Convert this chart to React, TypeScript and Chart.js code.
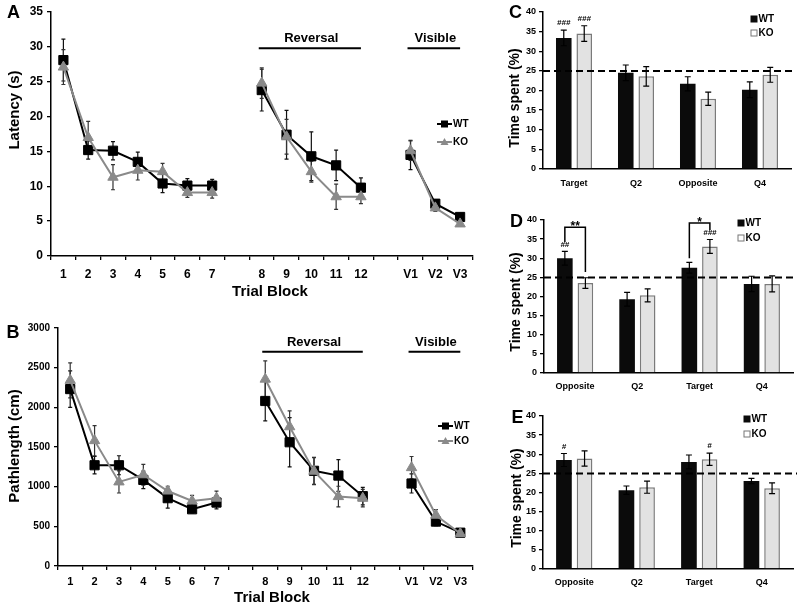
import React, { useEffect, useRef } from 'react';
import { Chart, registerables } from 'chart.js';

Chart.register(...registerables);

type Num = number | null;

// ---------------- Panels A & B (trial blocks) ----------------
const trialLabels = ['1', '2', '3', '4', '5', '6', '7', '', '8', '9', '10', '11', '12', '', 'V1', 'V2', 'V3'];

const latencyWT: Num[] = [28.1, 15.2, 15.1, 13.5, 10.4, 10.1, 10.1, null, 23.8, 17.4, 14.3, 13.0, 9.8, null, 14.5, 7.5, 5.6];
const latencyWTErr: Num[] = [3.0, 1.3, 1.3, 1.4, 1.3, 1.0, 0.9, null, 3.0, 3.5, 3.5, 2.2, 1.4, null, 2.1, 0.6, 0.4];
const latencyKO: Num[] = [27.1, 17.0, 11.3, 12.3, 12.1, 9.1, 9.1, null, 24.8, 17.1, 12.1, 8.5, 8.5, null, 15.1, 6.9, 4.6];
const latencyKOErr: Num[] = [2.5, 2.3, 1.8, 1.4, 1.2, 0.7, 0.8, null, 2.2, 2.5, 1.5, 1.8, 1.0, null, 1.4, 0.5, 0.3];

const pathWT: Num[] = [2230, 1270, 1270, 1085, 855, 715, 800, null, 2080, 1560, 1200, 1140, 880, null, 1040, 560, 420];
const pathWTErr: Num[] = [230, 110, 120, 110, 125, 45, 80, null, 250, 310, 170, 200, 110, null, 120, 50, 30];
const pathKO: Num[] = [2340, 1580, 1060, 1150, 945, 820, 855, null, 2355, 1755, 1195, 875, 855, null, 1240, 640, 410];
const pathKOErr: Num[] = [220, 190, 140, 130, 60, 70, 90, null, 230, 200, 170, 130, 110, null, 140, 70, 30];

const groupNames = ['Reversal', 'Visible'];
const groupFirst = ['8', 'V1'];
const groupLast = ['12', 'V3'];

// ---------------- Panels C, D, E (probe trials) ----------------
const zonesC = ['Target', 'Q2', 'Opposite', 'Q4'];
const zonesDE = ['Opposite', 'Q2', 'Target', 'Q4'];

const cWT = [33.4, 24.5, 21.7, 20.2];
const cWTErr = [2.0, 2.0, 1.8, 2.0];
const cKO = [34.5, 23.6, 17.9, 24.0];
const cKOErr = [2.0, 2.5, 1.7, 1.9];
const cMarksWT = ['###', '', '', ''];
const cMarksKO = ['###', '', '', ''];

const dWT = [30.0, 19.3, 27.5, 23.3];
const dWTErr = [1.8, 1.8, 1.4, 2.0];
const dKO = [23.5, 20.3, 33.1, 23.3];
const dKOErr = [1.4, 1.7, 1.8, 2.1];
const dMarksWT = ['##', '', '', ''];
const dMarksKO = ['', '', '###', ''];
const dBracketLabels = ['**', '*'];
const dBracketCats = [0, 2];

const eWT = [28.5, 20.6, 28.0, 23.0];
const eWTErr = [1.7, 1.1, 1.8, 0.7];
const eKO = [28.9, 21.4, 28.7, 21.1];
const eKOErr = [2.0, 1.6, 1.6, 1.4];
const eMarksWT = ['#', '', '', ''];
const eMarksKO = ['', '', '#', ''];

const chanceLevel = 25;
const seriesNames = ['WT', 'KO'];

// ---------------- helpers ----------------
const FONT = '"Liberation Sans", Arial, Helvetica, sans-serif';
const bold = (s: number) => `bold ${s}px ${FONT}`;

function drawText(ctx: CanvasRenderingContext2D, str: string, x: number, y: number, font: string,
  align: CanvasTextAlign = 'center', baseline: CanvasTextBaseline = 'middle', rotate = 0) {
  ctx.save();
  ctx.font = font;
  ctx.fillStyle = '#000';
  ctx.textAlign = align;
  ctx.textBaseline = baseline;
  ctx.translate(x, y);
  if (rotate) ctx.rotate(rotate);
  ctx.fillText(str, 0, 0);
  ctx.restore();
}

function errorBarPlugin(cap: number, lw: number, before: boolean) {
  const draw = (chart: any) => {
    const ctx = chart.ctx as CanvasRenderingContext2D;
    const ys = chart.scales.y;
    chart.data.datasets.forEach((ds: any, i: number) => {
      if (!ds.errors) return;
      const meta = chart.getDatasetMeta(i);
      ctx.save();
      ctx.strokeStyle = ds.errorColor || '#000';
      ctx.lineWidth = lw;
      meta.data.forEach((el: any, j: number) => {
        const v = ds.data[j];
        const e = ds.errors[j];
        if (v == null || e == null) return;
        const x = el.x;
        const t = ys.getPixelForValue(v + e);
        const b = ys.getPixelForValue(v - e);
        ctx.beginPath();
        ctx.moveTo(x, t); ctx.lineTo(x, b);
        ctx.moveTo(x - cap, t); ctx.lineTo(x + cap, t);
        ctx.moveTo(x - cap, b); ctx.lineTo(x + cap, b);
        ctx.stroke();
      });
      ctx.restore();
    });
  };
  return before ? { id: 'errorBars', beforeDatasetsDraw: draw } : { id: 'errorBars', afterDatasetsDraw: draw };
}

interface LineSpec {
  wt: Num[]; wtErr: Num[]; ko: Num[]; koErr: Num[];
  yMax: number; yStep: number; yTickSize: number; xTickSize: number; xTickPad: number;
  padTop: number; padRight: number; yAxisWidth: number; xAxisHeight: number;
  yTitle: string; yTitleX: number; yTitleY: number; xTitleX: number; xTitleY: number;
  letter: string; letterX: number; letterY: number;
  groupLineValue: number; legendX: number; legendY: number; legendGap: number;
}

function buildLine(s: LineSpec): any {
  const KO_COLOR = '#8a8a8a';
  const decor = {
    id: 'decorLine',
    afterDraw(chart: any) {
      const ctx = chart.ctx as CanvasRenderingContext2D;
      const xs = chart.scales.x;
      const ys = chart.scales.y;
      // group headers
      groupNames.forEach((name, g) => {
        const x1 = xs.getPixelForValue(trialLabels.indexOf(groupFirst[g]));
        const x2 = xs.getPixelForValue(trialLabels.indexOf(groupLast[g]));
        const ly = ys.getPixelForValue(s.groupLineValue);
        ctx.save();
        ctx.strokeStyle = '#000';
        ctx.lineWidth = 2;
        ctx.beginPath();
        ctx.moveTo(x1 - 3, ly);
        ctx.lineTo(x2, ly);
        ctx.stroke();
        ctx.restore();
        drawText(ctx, name, (x1 + x2) / 2, ly - 6, bold(13), 'center', 'alphabetic');
      });
      // legend
      const items = [
        { name: seriesNames[0], color: '#000', marker: 'rect' },
        { name: seriesNames[1], color: KO_COLOR, marker: 'tri' },
      ];
      items.forEach((it, k) => {
        const yy = s.legendY + k * s.legendGap;
        const x0 = s.legendX;
        ctx.save();
        ctx.strokeStyle = it.color;
        ctx.fillStyle = it.color;
        ctx.lineWidth = 2;
        ctx.beginPath();
        ctx.moveTo(x0, yy);
        ctx.lineTo(x0 + 15, yy);
        ctx.stroke();
        const cx = x0 + 7.5;
        ctx.beginPath();
        if (it.marker === 'rect') {
          ctx.rect(cx - 3.5, yy - 3.5, 7, 7);
        } else {
          ctx.moveTo(cx, yy - 4);
          ctx.lineTo(cx + 4, yy + 3);
          ctx.lineTo(cx - 4, yy + 3);
          ctx.closePath();
        }
        ctx.fill();
        ctx.restore();
        drawText(ctx, it.name, x0 + 16, yy + 0.5, bold(10), 'left', 'middle');
      });
      // titles and panel letter
      drawText(ctx, s.yTitle, s.yTitleX, s.yTitleY, bold(15), 'center', 'middle', -Math.PI / 2);
      drawText(ctx, 'Trial Block', s.xTitleX, s.xTitleY, bold(15), 'center', 'middle');
      drawText(ctx, s.letter, s.letterX, s.letterY, bold(18), 'center', 'middle');
    },
  };

  return {
    type: 'line',
    data: {
      labels: trialLabels,
      datasets: [
        {
          label: seriesNames[0], data: s.wt, errors: s.wtErr, errorColor: '#111', order: 1,
          borderColor: '#000', backgroundColor: '#000', borderWidth: 2,
          pointStyle: 'rect', pointRadius: 6.5, pointBorderWidth: 1,
          pointBackgroundColor: '#000', pointBorderColor: '#000', spanGaps: false, tension: 0,
        },
        {
          label: seriesNames[1], data: s.ko, errors: s.koErr, errorColor: '#333', order: 0,
          borderColor: KO_COLOR, backgroundColor: KO_COLOR, borderWidth: 2,
          pointStyle: 'triangle', pointRadius: 6, pointBorderWidth: 1,
          pointBackgroundColor: KO_COLOR, pointBorderColor: KO_COLOR, spanGaps: false, tension: 0,
        },
      ],
    },
    options: {
      responsive: false,
      animation: false,
      events: [],
      layout: { padding: { left: 0, top: s.padTop, right: s.padRight, bottom: 0 } },
      plugins: { legend: { display: false }, tooltip: { enabled: false } },
      scales: {
        x: {
          type: 'category',
          offset: true,
          grid: { offset: true, drawOnChartArea: false, drawTicks: true, tickLength: 4, color: '#000', lineWidth: 1.3 },
          border: { display: true, color: '#000', width: 1.5 },
          ticks: { font: { family: FONT, size: s.xTickSize, weight: 'bold' }, color: '#000', padding: s.xTickPad, autoSkip: false, maxRotation: 0 },
          afterFit: (sc: any) => { sc.height = s.xAxisHeight; },
        },
        y: {
          min: 0, max: s.yMax,
          grid: { drawOnChartArea: false, drawTicks: true, tickLength: 4, color: '#000', lineWidth: 1.3 },
          border: { display: true, color: '#000', width: 1.5 },
          ticks: {
            stepSize: s.yStep, font: { family: FONT, size: s.yTickSize, weight: 'bold' }, color: '#000', padding: 4,
            callback: (v: any) => String(v),
          },
          afterFit: (sc: any) => { sc.width = s.yAxisWidth; },
        },
      },
    },
    plugins: [errorBarPlugin(2, 1.2, true), decor],
  };
}

interface BarSpec {
  zones: string[]; wt: number[]; wtErr: number[]; ko: number[]; koErr: number[];
  marksWT: string[]; marksKO: string[];
  padTop: number; padRight: number; yAxisWidth: number; xAxisHeight: number; xTickPad: number;
  letter: string; letterX: number; letterY: number; yTitleX: number; yTitleY: number;
  legendX: number; legendY: number; legendGap: number;
  brackets?: { labels: string[]; cats: number[]; tops: number[]; leftEnds: number[]; rightEnds: number[] };
}

function buildBar(s: BarSpec): any {
  const decor = {
    id: 'decorBar',
    afterDatasetsDraw(chart: any) {
      const ctx = chart.ctx as CanvasRenderingContext2D;
      const ys = chart.scales.y;
      const area = chart.chartArea;
      // chance level dashed line
      const cy = ys.getPixelForValue(chanceLevel);
      ctx.save();
      ctx.strokeStyle = '#000';
      ctx.lineWidth = 2;
      ctx.setLineDash([7, 4]);
      ctx.beginPath();
      ctx.moveTo(area.left, cy);
      ctx.lineTo(area.right + 4, cy);
      ctx.stroke();
      ctx.restore();
    },
    afterDraw(chart: any) {
      const ctx = chart.ctx as CanvasRenderingContext2D;
      const ys = chart.scales.y;
      const metas = [chart.getDatasetMeta(0), chart.getDatasetMeta(1)];
      const marks = [s.marksWT, s.marksKO];
      const vals = [s.wt, s.ko];
      const errs = [s.wtErr, s.koErr];
      marks.forEach((arr, i) => {
        arr.forEach((m, j) => {
          if (!m) return;
          const x = metas[i].data[j].x;
          const y = ys.getPixelForValue(vals[i][j] + errs[i][j]) - 7;
          drawText(ctx, m, x, y, `italic bold 8px ${FONT}`, 'center', 'middle');
        });
      });
      if (s.brackets) {
        const b = s.brackets;
        b.labels.forEach((lab, k) => {
          const c = b.cats[k];
          const xL = metas[0].data[c].x;
          const xR = metas[1].data[c].x;
          const yT = ys.getPixelForValue(b.tops[k]);
          const yL = ys.getPixelForValue(b.leftEnds[k]);
          const yR = ys.getPixelForValue(b.rightEnds[k]);
          ctx.save();
          ctx.strokeStyle = '#000';
          ctx.lineWidth = 1.5;
          ctx.beginPath();
          ctx.moveTo(xL, yL);
          ctx.lineTo(xL, yT);
          ctx.lineTo(xR, yT);
          ctx.lineTo(xR, yR);
          ctx.stroke();
          ctx.restore();
          drawText(ctx, lab, (xL + xR) / 2, yT + 3, bold(12), 'center', 'alphabetic');
        });
      }
      // legend
      const fills = ['#0b0b0b', '#ffffff'];
      const strokes = ['#0b0b0b', '#777'];
      seriesNames.forEach((nm, k) => {
        const yy = s.legendY + k * s.legendGap;
        ctx.save();
        ctx.fillStyle = fills[k];
        ctx.strokeStyle = strokes[k];
        ctx.lineWidth = 1;
        ctx.fillRect(s.legendX - 3, yy - 3, 6, 6);
        ctx.strokeRect(s.legendX - 3, yy - 3, 6, 6);
        ctx.restore();
        drawText(ctx, nm, s.legendX + 4.5, yy + 0.5, bold(10), 'left', 'middle');
      });
      drawText(ctx, 'Time spent (%)', s.yTitleX, s.yTitleY, bold(14), 'center', 'middle', -Math.PI / 2);
      drawText(ctx, s.letter, s.letterX, s.letterY, bold(18), 'center', 'middle');
    },
  };

  return {
    type: 'bar',
    data: {
      labels: s.zones,
      datasets: [
        {
          label: seriesNames[0], data: s.wt, errors: s.wtErr, errorColor: '#000',
          backgroundColor: '#0b0b0b', borderColor: '#0b0b0b', borderWidth: 0,
          categoryPercentage: 0.66, barPercentage: 0.76,
        },
        {
          label: seriesNames[1], data: s.ko, errors: s.koErr, errorColor: '#000',
          backgroundColor: '#e2e2e2', borderColor: '#7a7a7a', borderWidth: 1.5,
          categoryPercentage: 0.66, barPercentage: 0.76,
        },
      ],
    },
    options: {
      responsive: false,
      animation: false,
      events: [],
      layout: { padding: { left: 0, top: s.padTop, right: s.padRight, bottom: 0 } },
      plugins: { legend: { display: false }, tooltip: { enabled: false } },
      scales: {
        x: {
          grid: { display: true, drawOnChartArea: false, drawTicks: false },
          border: { display: true, color: '#000', width: 1.5 },
          ticks: { font: { family: FONT, size: 9, weight: 'bold' }, color: '#000', padding: s.xTickPad, autoSkip: false, maxRotation: 0 },
          afterFit: (sc: any) => { sc.height = s.xAxisHeight; },
        },
        y: {
          min: 0, max: 40,
          grid: { drawOnChartArea: false, drawTicks: true, tickLength: 4, color: '#000', lineWidth: 1.3 },
          border: { display: true, color: '#000', width: 1.5 },
          ticks: { stepSize: 5, font: { family: FONT, size: 9, weight: 'bold' }, color: '#000', padding: 3 },
          afterFit: (sc: any) => { sc.width = s.yAxisWidth; },
        },
      },
    },
    plugins: [errorBarPlugin(3, 1.2, false), decor],
  };
}

// ---------------- panel specs ----------------
const specA: LineSpec = {
  wt: latencyWT, wtErr: latencyWTErr, ko: latencyKO, koErr: latencyKOErr,
  yMax: 35, yStep: 5, yTickSize: 12, xTickSize: 12, xTickPad: 7,
  padTop: 12, padRight: 7, yAxisWidth: 51, xAxisHeight: 44,
  yTitle: 'Latency (s)', yTitleX: 15, yTitleY: 110, xTitleX: 270, xTitleY: 292,
  letter: 'A', letterX: 13.5, letterY: 13,
  groupLineValue: 29.8, legendX: 437, legendY: 124, legendGap: 18,
};

const specB: LineSpec = {
  wt: pathWT, wtErr: pathWTErr, ko: pathKO, koErr: pathKOErr,
  yMax: 3000, yStep: 500, yTickSize: 10, xTickSize: 11, xTickPad: 5,
  padTop: 28, padRight: 6, yAxisWidth: 58, xAxisHeight: 44,
  yTitle: 'Pathlength (cm)', yTitleX: 15, yTitleY: 146, xTitleX: 272, xTitleY: 298,
  letter: 'B', letterX: 13, letterY: 33,
  groupLineValue: 2700, legendX: 438, legendY: 126, legendGap: 15,
};

const specC: BarSpec = {
  zones: zonesC, wt: cWT, wtErr: cWTErr, ko: cKO, koErr: cKOErr, marksWT: cMarksWT, marksKO: cMarksKO,
  padTop: 12, padRight: 9, yAxisWidth: 63, xAxisHeight: 31, xTickPad: 9,
  letter: 'C', letterX: 35.5, letterY: 13.5, yTitleX: 35, yTitleY: 98,
  legendX: 274, legendY: 19, legendGap: 14,
};

const specD: BarSpec = {
  zones: zonesDE, wt: dWT, wtErr: dWTErr, ko: dKO, koErr: dKOErr, marksWT: dMarksWT, marksKO: dMarksKO,
  padTop: 20, padRight: 7, yAxisWidth: 64, xAxisHeight: 27, xTickPad: 8,
  letter: 'D', letterX: 36.5, letterY: 22.5, yTitleX: 36, yTitleY: 102,
  legendX: 261, legendY: 23, legendGap: 15,
  brackets: { labels: dBracketLabels, cats: dBracketCats, tops: [38.1, 39.2], leftEnds: [34.2, 30.0], rightEnds: [26.4, 37.3] },
};

const specE: BarSpec = {
  zones: zonesDE, wt: eWT, wtErr: eWTErr, ko: eKO, koErr: eKOErr, marksWT: eMarksWT, marksKO: eMarksKO,
  padTop: 16, padRight: 7, yAxisWidth: 63, xAxisHeight: 41, xTickPad: 8,
  letter: 'E', letterX: 37.5, letterY: 18, yTitleX: 37, yTitleY: 98,
  legendX: 267, legendY: 19, legendGap: 15,
};

function ChartCanvas(props: { left: number; top: number; width: number; height: number; build: () => any }) {
  const ref = useRef<HTMLCanvasElement>(null);
  useEffect(() => {
    if (!ref.current) return;
    const chart = new Chart(ref.current, props.build());
    return () => chart.destroy();
  }, []);
  return (
    <canvas
      ref={ref}
      width={props.width}
      height={props.height}
      style={{ position: 'absolute', left: props.left, top: props.top, width: props.width, height: props.height }}
    />
  );
}

export default function App() {
  return (
    <div style={{ position: 'fixed', left: 0, top: 0, width: 800, height: 610, background: '#fff', overflow: 'hidden' }}>
      <ChartCanvas left={0} top={0} width={480} height={300} build={() => buildLine(specA)} />
      <ChartCanvas left={0} top={300} width={480} height={310} build={() => buildLine(specB)} />
      <ChartCanvas left={480} top={0} width={320} height={200} build={() => buildBar(specC)} />
      <ChartCanvas left={480} top={200} width={320} height={200} build={() => buildBar(specD)} />
      <ChartCanvas left={480} top={400} width={320} height={210} build={() => buildBar(specE)} />
    </div>
  );
}
